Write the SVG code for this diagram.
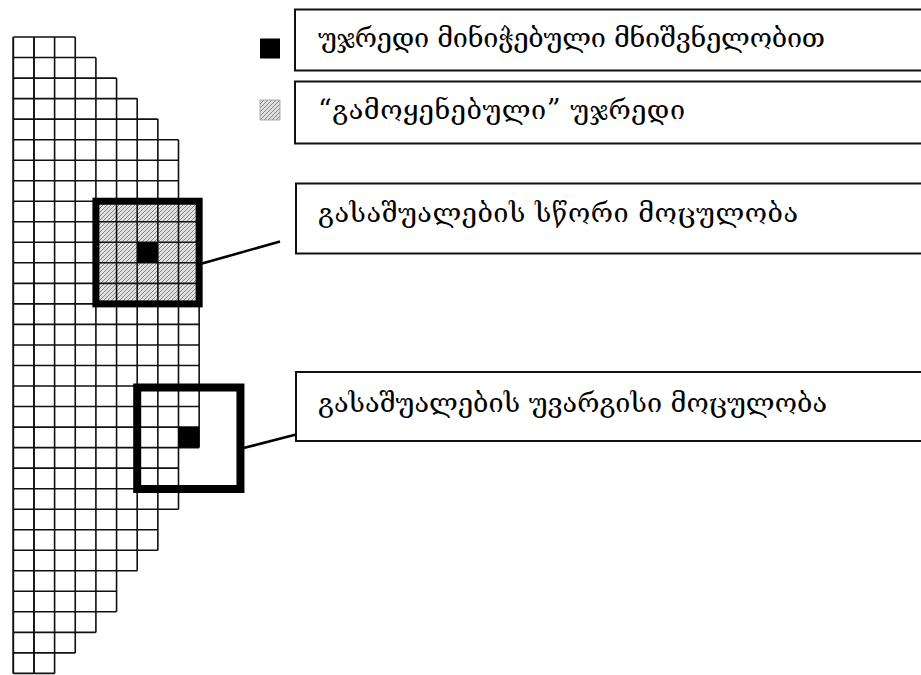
<svg xmlns="http://www.w3.org/2000/svg" width="921" height="675" viewBox="0 0 921 675">
<style>
.grid{fill:none;stroke:#111;stroke-width:1.6}
.frame{fill:none;stroke:#000}
.lbox{fill:#fff;stroke:#111;stroke-width:2}
.lbl{font-family:"DejaVu Serif","DejaVu Sans",serif;font-size:27px;fill:#000}
.conn{stroke:#000;stroke-width:2.6;fill:none}
</style>
<defs>
<pattern id="hatch" patternUnits="userSpaceOnUse" width="4" height="4">
<rect width="4" height="4" fill="#e0e0e0"/>
<path d="M-1 1L1 -1M0 4L4 0M3 5L5 3" stroke="#858585" stroke-width="1"/>
</pattern>
</defs>
<rect width="921" height="675" fill="#fff"/>
<g id="grid">
<rect x="95.9" y="201.24" width="103.25" height="102.65" fill="url(#hatch)"/>
<path class="grid" d="M13.3 37H75.25M13.3 57.5H95.9M13.3 78.1H116.55M13.3 98.6H137.2M13.3 119.1H157.85M13.3 139.7H178.5M13.3 160.2H178.5M13.3 180.7H178.5M13.3 201.2H199.15M13.3 221.8H199.15M13.3 242.3H199.15M13.3 262.8H199.15M13.3 283.4H199.15M13.3 303.9H199.15M13.3 324.4H199.15M13.3 345H199.15M13.3 365.5H199.15M13.3 386H199.15M13.3 406.5H199.15M13.3 427.1H199.15M13.3 447.6H199.15M13.3 468.1H178.5M13.3 488.7H178.5M13.3 509.2H178.5M13.3 529.7H157.85M13.3 550.3H157.85M13.3 570.8H137.2M13.3 591.3H116.55M13.3 611.8H116.55M13.3 632.4H95.9M13.3 652.9H75.25M13.3 673.4H54.6"/>
<path class="grid" d="M13.3 37V673.4M33.95 37V673.4M54.6 37V673.4M75.25 37V652.9M95.9 57.5V632.4M116.55 78.1V611.8M137.2 98.6V570.8M157.85 119.1V550.3M178.5 139.7V509.2M199.15 201.2V447.6"/>
<path class="grid" d="M13.3 37V673.4M33.95 37V673.4" stroke-width="2.2"/>
</g>
<g id="min-cell-1"><rect x="137.2" y="242.3" width="20.65" height="20.53" fill="#000"/></g>
<g id="correct-volume"><rect class="frame" x="95.9" y="201.24" width="103.25" height="102.65" stroke-width="7"/></g>
<g id="min-cell-2"><rect x="178.5" y="427.07" width="20.65" height="20.53" fill="#000"/></g>
<g id="wrong-volume"><rect class="frame" x="137.2" y="387.5" width="103.25" height="101.5" stroke-width="8"/></g>
<g id="legend-min">
<rect x="260" y="38.5" width="20" height="20" fill="#000"/>
<rect class="lbox" x="295" y="9.5" width="640" height="61"/>
<text class="lbl" x="318" y="47" textLength="507">უჯრედი მინიჭებული მნიშვნელობით</text>
</g>
<g id="legend-used">
<rect x="260" y="100" width="20" height="20" fill="url(#hatch)" stroke="#999" stroke-width="0.8"/>
<rect class="lbox" x="295" y="81.5" width="640" height="62"/>
<text class="lbl" x="318" y="118.5" textLength="367">“გამოყენებული” უჯრედი</text>
</g>
<g id="label-correct">
<rect class="lbox" x="296" y="183.5" width="640" height="70"/>
<text class="lbl" x="318" y="221.5" textLength="480">გასაშუალების სწორი მოცულობა</text>
</g>
<g id="label-wrong">
<rect class="lbox" x="296" y="372" width="640" height="69"/>
<text class="lbl" x="318" y="411.5" textLength="509">გასაშუალების უვარგისი მოცულობა</text>
</g>
<g id="connectors">
<path class="conn" d="M202 263.5L280 241.5"/>
<path class="conn" d="M243.5 448L296 434.5"/>
</g>
</svg>
